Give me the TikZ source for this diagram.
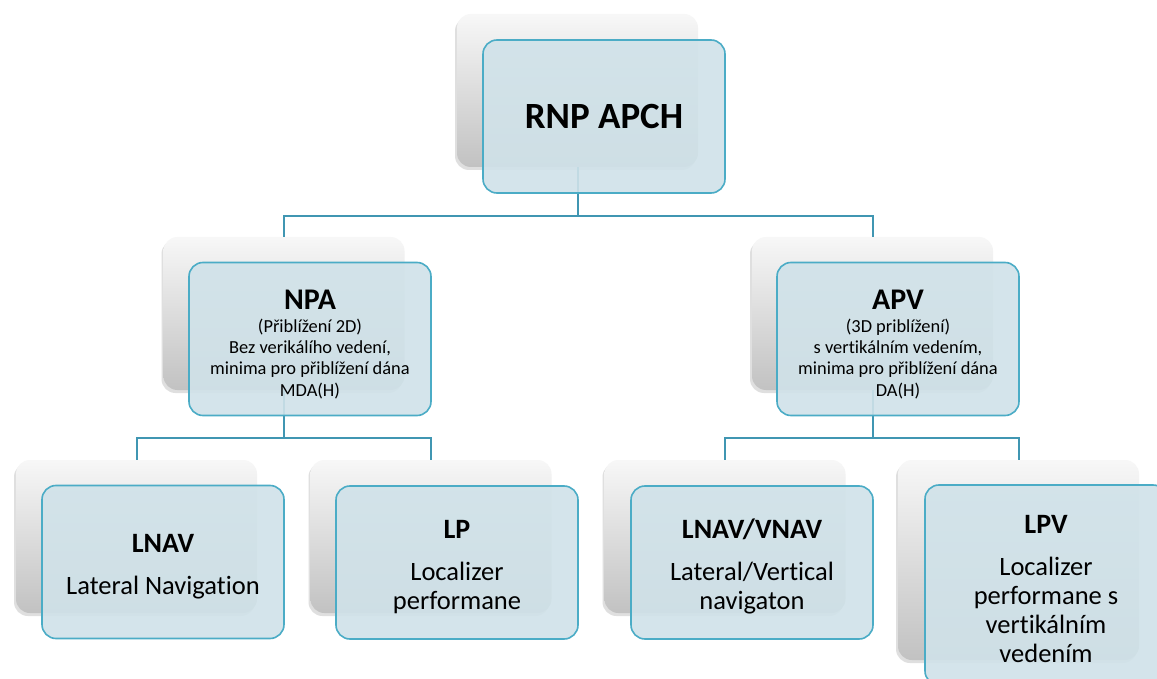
\documentclass[tikz,border=0pt]{standalone}
\usepackage{fontspec}
\setmainfont{Carlito}[Ligatures={NoCommon}]
\usetikzlibrary{shadows}
\definecolor{bordc}{RGB}{75,172,198}
\definecolor{linec}{RGB}{64,150,178}
\definecolor{frontc}{RGB}{208,226,233}
\tikzset{
 backbox/.style={rounded corners=14pt, top color=white!97!black, bottom color=white!76!black,
   minimum width=241pt, minimum height=153pt, inner sep=0pt,
   drop shadow={shadow xshift=-2pt, shadow yshift=-3pt, opacity=0.25}},
 frontbox/.style={rounded corners=14pt, draw=bordc, line width=1.6pt, fill=frontc,
   fill opacity=0.9, text opacity=1, draw opacity=1, minimum width=242pt, minimum height=153pt,
   align=center, inner sep=2pt, text=black},
 conn/.style={draw=linec, line width=2pt},
 subfont/.style={font=\fontsize{18.4}{21.2}\selectfont},
 bodyfont/.style={font=\fontsize{26.5}{29}\selectfont},
}
\newcommand{\ttl}[2]{{\fontsize{#1}{#1}\selectfont\bfseries #2}}
\begin{document}
\begin{tikzpicture}[x=1pt,y=-1pt]
\clip (0,0) rectangle (1157,679);
\fill[white] (0,0) rectangle (1157,679);
% back boxes
\node[backbox] (topB) at (577.5,90.5) {};
\node[backbox] (npaB) at (284,313.5) {};
\node[backbox] (apvB) at (872.5,313.5) {};
\node[backbox] (lnavB) at (136.5,536.5) {};
\node[backbox] (lpB) at (431,536.5) {};
\node[backbox] (lvB) at (725,536.5) {};
\node[backbox, minimum height=200pt] (lpvB) at (1018.5,560) {};
% connector junctions
\coordinate (j1) at (577.5,216);
\coordinate (j2) at (284,438);
\coordinate (j3) at (872.5,438);
% connectors
\draw[conn] (topB.south) -- (j1) -| (npaB.north);
\draw[conn] (j1) -| (apvB.north);
\draw[conn] (npaB.south) -- (j2) -| (lnavB.north);
\draw[conn] (j2) -| (lpB.north);
\draw[conn] (apvB.south) -- (j3) -| (lvB.north);
\draw[conn] (j3) -| (lpvB.north);
% front boxes
\node[frontbox] (top) at (604,116.5) {\ttl{37}{RNP APCH}};
\node[frontbox, subfont] (npa) at (310,339) {\rule{0pt}{30pt}\ttl{30}{NPA}\\[2pt](Přiblížení 2D)\\Bez verikálího vedení,\\minima pro přiblížení dána\\MDA(H)};
\node[frontbox, subfont] (apv) at (898,339) {\rule{0pt}{30pt}\ttl{30}{APV}\\[2pt](3D priblížení)\\s vertikálním vedením,\\minima pro přiblížení dána\\DA(H)};
\node[frontbox, bodyfont] (lnav) at (163,562) {\rule{0pt}{28pt}\ttl{28}{LNAV}\\[13pt]Lateral Navigation};
\node[frontbox, bodyfont] (lp) at (457,562.5) {\rule{0pt}{28pt}\ttl{28}{LP}\\[13pt]Localizer\\performane};
\node[frontbox, bodyfont] (lv) at (752,562.5) {\rule{0pt}{28pt}\ttl{28}{LNAV/VNAV}\\[13pt]Lateral/Vertical\\navigaton};
\node[frontbox, bodyfont, minimum height=200pt] (lpv) at (1046,585) {\rule{0pt}{26pt}\ttl{28}{LPV}\\[13pt]Localizer\\performane s\\vertikálním\\vedením};
\end{tikzpicture}
\end{document}
